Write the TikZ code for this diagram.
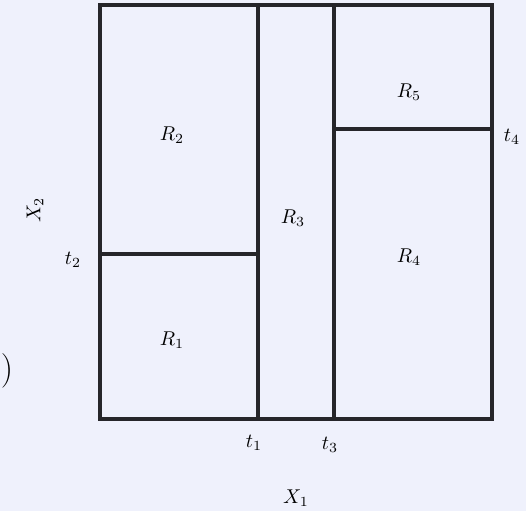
\documentclass[tikz,border=0pt]{standalone}
\usepackage{tikz}
\usetikzlibrary{positioning,calc}
\definecolor{paper}{HTML}{EFF1FC}
\definecolor{edge}{HTML}{26262A}

\begin{document}
\begin{tikzpicture}[x=0.5pt, y=-0.5pt,
  part/.style={draw=edge, line width=1.6pt, line cap=rect},
  reg/.style={font=\normalsize},
  tick/.style={font=\normalsize}]
\fill[paper] (0,0) rectangle (526,511);
\useasboundingbox (0,0) rectangle (526,511);
% corners of the feature space
\coordinate (sw) at (100,419);
\coordinate (ne) at (492,5);
\coordinate (a1) at (258,419); \coordinate (b1) at (258,5);
\coordinate (a3) at (334,419); \coordinate (b3) at (334,5);
\coordinate (c2) at (100,254); \coordinate (d2) at (258,254);
\coordinate (c4) at (334,129); \coordinate (d4) at (492,129);
\draw[part] (sw) rectangle (ne);
\draw[part] (a1) -- (b1);
\draw[part] (a3) -- (b3);
\draw[part] (c2) -- (d2);
\draw[part] (c4) -- (d4);
% regions
\node[reg] (r1) at (172,340) {$R_1$};
\node[reg] (r2) at (172,135) {$R_2$};
\node[reg] (r3) at (293,218) {$R_3$};
\node[reg] (r4) at (409,257) {$R_4$};
\node[reg] (r5) at (409,92) {$R_5$};
% split points
\node[tick] (t1) at (254,443) {$t_1$};
\node[tick] (t2) at (73,260) {$t_2$};
\node[tick] (t3) at (330,445) {$t_3$};
\node[tick] (t4) at (512,137) {$t_4$};
\node[tick] (x1) at (296,498) {$X_1$};
\node[tick, rotate=90] (x2) at (35,210) {$X_2$};
\node[font=\LARGE, inner sep=0] (tag) at (7,371) {)};
\end{tikzpicture}
\end{document}
